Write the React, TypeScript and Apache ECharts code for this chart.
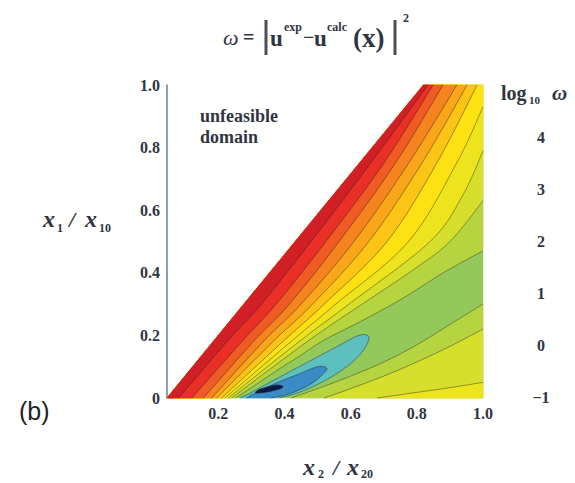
import React, { useEffect, useRef } from "react";
import * as echarts from "echarts";

// ---------- tick labels ----------
const xTicks = [0.2, 0.4, 0.6, 0.8, 1.0];
const yTicks = [0, 0.2, 0.4, 0.6, 0.8, 1.0];
const colorbarTicks = [-1, 0, 1, 2, 3, 4];

// ---------- feasible domain (x2/x20, x1/x10) ----------
const domain = [[0.045, 0], [1, 0], [1, 1], [0.82, 1]];

// ---------- contour lines of log10(omega), points [x2/x20, x1/x10] ----------
const upperLevels = [0.5, 1, 1.5, 2, 2.5, 3, 3.5, 4, 4.5, 5];
const upper05 = [[0.252, 0], [0.31, 0.04], [0.38, 0.09], [0.44, 0.13], [0.52, 0.185], [0.64, 0.25], [0.76, 0.32], [0.88, 0.4], [1, 0.47]];
const upper10 = [[0.24, 0], [0.475, 0.185], [0.635, 0.3], [0.79, 0.41], [0.9, 0.5], [1, 0.63]];
const upper15 = [[0.23, 0], [0.45, 0.185], [0.595, 0.3], [0.84, 0.5], [0.94, 0.65], [1, 0.79]];
const upper20 = [[0.22, 0], [0.425, 0.185], [0.555, 0.3], [0.775, 0.5], [0.92, 0.75], [1, 0.93]];
const upper25 = [[0.21, 0], [0.4, 0.185], [0.52, 0.3], [0.71, 0.5], [0.86, 0.75], [0.982, 1]];
const upper30 = [[0.195, 0], [0.37, 0.185], [0.485, 0.3], [0.655, 0.5], [0.815, 0.75], [0.952, 1]];
const upper35 = [[0.18, 0], [0.34, 0.185], [0.45, 0.3], [0.61, 0.5], [0.775, 0.75], [0.921, 1]];
const upper40 = [[0.155, 0], [0.31, 0.185], [0.415, 0.3], [0.565, 0.5], [0.735, 0.75], [0.879, 1]];
const upper45 = [[0.12, 0], [0.275, 0.185], [0.375, 0.3], [0.525, 0.5], [0.7, 0.75], [0.849, 1]];
const upper50 = [[0.08, 0], [0.23, 0.185], [0.33, 0.3], [0.48, 0.5], [0.66, 0.75], [0.833, 1]];

const lowerLevels = [0.5, 1, 1.5];
const lower05 = [[0.42, 0], [0.5, 0.03], [0.6, 0.07], [0.7, 0.115], [0.8, 0.17], [0.9, 0.235], [1, 0.3]];
const lower10 = [[0.52, 0], [0.6, 0.03], [0.7, 0.07], [0.8, 0.115], [0.9, 0.165], [1, 0.22]];
const lower15 = [[0.68, 0], [0.8, 0.018], [0.9, 0.033], [1, 0.05]];

// sub-level regions around the minimum
const below0 = [[0.265, 0], [0.29, 0.012], [0.33, 0.035], [0.4, 0.075], [0.48, 0.12], [0.56, 0.165], [0.625, 0.2], [0.655, 0.195], [0.64, 0.155], [0.6, 0.11], [0.53, 0.06], [0.45, 0.02], [0.385, 0]];
const belowM05 = [[0.285, 0], [0.32, 0.02], [0.38, 0.05], [0.44, 0.075], [0.5, 0.1], [0.528, 0.095], [0.515, 0.075], [0.48, 0.045], [0.42, 0.015], [0.36, 0]];
const belowM1 = [[0.315, 0.016], [0.35, 0.02], [0.385, 0.029], [0.395, 0.037], [0.375, 0.041], [0.345, 0.034], [0.32, 0.025]];

// band colours, keyed by the band's lower bound
const bandLow = [-1.5, -1, -0.5, 0, 0.5, 1, 1.5, 2, 2.5, 3, 3.5, 4, 4.5, 5];
const bandColor = ["#0f1a44", "#3a8cc6", "#5dbfbe", "#93c95a", "#b5d43f", "#d5df2c", "#eee41d", "#fde213", "#fcc515", "#f9a61b", "#f5841f", "#f05a23", "#e92f26", "#d11f26"];

const upperContours = [upper05, upper10, upper15, upper20, upper25, upper30, upper35, upper40, upper45, upper50];
const lowerContours = [lower05, lower10, lower15];

const FONT = '"Liberation Serif", "DejaVu Serif", serif';
const TXT = "#30353f";

type Layer = { curve: number[][]; tail: number[][]; closedCurve: boolean; color: string };

function colorOf(level: number) {
  return bandColor[bandLow.indexOf(level)];
}

function upperTail(c: number[][]) {
  const tail: number[][] = [];
  const end = c[c.length - 1];
  if (end[0] >= 1 && end[1] < 1) tail.push([1, 1]);
  if (end[0] >= 1 || end[1] >= 1) tail.push([0.82, 1]);
  tail.push([0.045, 0]);
  return tail;
}

function buildLayers() {
  const layers: Layer[] = [];
  layers.push({ curve: [], tail: domain, closedCurve: false, color: colorOf(0) });
  upperLevels.forEach((L, i) => {
    const li = lowerLevels.indexOf(L);
    if (li >= 0) layers.push({ curve: lowerContours[li], tail: [[1, 0]], closedCurve: false, color: colorOf(L) });
    layers.push({ curve: upperContours[i], tail: upperTail(upperContours[i]), closedCurve: false, color: colorOf(L) });
  });
  layers.push({ curve: below0, tail: [], closedCurve: false, color: colorOf(-0.5) });
  layers.push({ curve: belowM05, tail: [], closedCurve: false, color: colorOf(-1) });
  layers.push({ curve: belowM1, tail: [], closedCurve: true, color: colorOf(-1.5) });
  return layers;
}

function buildLines() {
  const lines: { pts: number[][]; closed: boolean }[] = [];
  upperContours.forEach((c) => lines.push({ pts: c, closed: false }));
  lowerContours.forEach((c) => lines.push({ pts: c, closed: false }));
  lines.push({ pts: below0, closed: false });
  lines.push({ pts: belowM05, closed: false });
  lines.push({ pts: belowM1, closed: true });
  return lines;
}

// Catmull-Rom drawing of a curve through pixel points (rendering only)
function spline(p: number[][], closed: boolean) {
  const n = p.length;
  if (n < 3) return p.slice();
  const out: number[][] = [];
  const get = (i: number) => {
    if (closed) return p[(i + n) % n];
    return p[Math.max(0, Math.min(n - 1, i))];
  };
  const segs = closed ? n : n - 1;
  const steps = 10;
  for (let i = 0; i < segs; i++) {
    const p0 = get(i - 1), p1 = get(i), p2 = get(i + 1), p3 = get(i + 2);
    for (let s = 0; s < steps; s++) {
      const t = s / steps, t2 = t * t, t3 = t2 * t;
      const f = (k: number) =>
        0.5 * (2 * p1[k] + (-p0[k] + p2[k]) * t + (2 * p0[k] - 5 * p1[k] + 4 * p2[k] - p3[k]) * t2 + (-p0[k] + 3 * p1[k] - 3 * p2[k] + p3[k]) * t3);
      out.push([f(0), f(1)]);
    }
  }
  if (!closed) out.push(p[n - 1]);
  return out;
}

function txt(text: string, x: number, y: number, font: string, extra: any = {}) {
  return {
    type: "text",
    x,
    y,
    silent: true,
    style: { text, font, fill: TXT, verticalAlign: "middle", align: "left", ...extra },
  };
}

export default function App() {
  const ref = useRef<HTMLDivElement>(null);
  useEffect(() => {
    document.body.style.margin = "0";
    if (!ref.current) return;
    const chart = echarts.init(ref.current, undefined, { renderer: "svg" });
    const layers = buildLayers();
    const lines = buildLines();

    const graphics: any[] = [
      // title  ω = | u^exp − u^calc(x) |^2
      txt("ω", 223, 37, `italic 22px ${FONT}`),
      txt("=", 243, 37, `bold 20px ${FONT}`),
      { type: "line", silent: true, shape: { x1: 266, y1: 20, x2: 266, y2: 55 }, style: { stroke: "#4a4f58", lineWidth: 3 } },
      txt("u", 270, 38, `bold 23px ${FONT}`),
      txt("exp", 284, 27, `bold 12px ${FONT}`),
      txt("−", 303, 37, `bold 20px ${FONT}`),
      txt("u", 314, 38, `bold 23px ${FONT}`),
      txt("calc", 327, 27, `bold 12px ${FONT}`),
      txt("(x)", 353, 38, `bold 27px ${FONT}`),
      { type: "line", silent: true, shape: { x1: 395, y1: 20, x2: 395, y2: 55 }, style: { stroke: "#4a4f58", lineWidth: 3 } },
      txt("2", 403, 18, `bold 12px ${FONT}`),
      // unfeasible domain
      txt("unfeasible", 200, 116, `bold 18px ${FONT}`),
      txt("domain", 200, 137, `bold 18px ${FONT}`),
      // colorbar title
      txt("log", 501, 93, `bold 20px ${FONT}`),
      txt("10", 529, 100, `bold 11px ${FONT}`),
      txt("ω", 552, 93, `italic bold 21px ${FONT}`),
      // (b)
      txt("(b)", 19, 411, `25px "Liberation Sans", Arial, sans-serif`, { fill: "#222" }),
      // y axis name
      txt("x", 43, 219, `italic bold 24px ${FONT}`),
      txt("1", 57, 228, `bold 12px ${FONT}`),
      txt("/", 69, 219, `italic bold 22px ${FONT}`),
      txt("x", 85, 219, `italic bold 24px ${FONT}`),
      txt("10", 99, 228, `bold 12px ${FONT}`),
      // x axis name
      txt("x", 303, 467, `italic bold 24px ${FONT}`),
      txt("2", 318, 474, `bold 12px ${FONT}`),
      txt("/", 333, 467, `italic bold 22px ${FONT}`),
      txt("x", 347, 467, `italic bold 24px ${FONT}`),
      txt("20", 361, 474, `bold 12px ${FONT}`),
    ];
    colorbarTicks.forEach((v) => {
      graphics.push(
        txt(v < 0 ? "−" + Math.abs(v) : String(v), 541, 397 - (v + 1) * 52, `bold 16px ${FONT}`, { align: "center" })
      );
    });

    chart.setOption({
      animation: false,
      backgroundColor: "#ffffff",
      grid: { left: 167, top: 85, width: 316, height: 313 },
      xAxis: {
        type: "value",
        min: 0.045,
        max: 1,
        axisLine: { show: false },
        axisTick: { show: false },
        splitLine: { show: false },
        axisLabel: {
          customValues: xTicks,
          formatter: (v: number) => v.toFixed(1),
          fontFamily: FONT,
          fontSize: 16,
          fontWeight: "bold",
          color: TXT,
          margin: 7,
        },
      },
      yAxis: {
        type: "value",
        min: 0,
        max: 1,
        axisLine: { show: true, onZero: false, lineStyle: { color: "#7088a3", width: 1.6 } },
        axisTick: { show: false },
        splitLine: { show: false },
        axisLabel: {
          customValues: yTicks,
          formatter: (v: number) => (v === 0 ? "0" : v.toFixed(1)),
          fontFamily: FONT,
          fontSize: 16,
          fontWeight: "bold",
          color: TXT,
          margin: 7,
        },
      },
      graphic: graphics,
      series: [
        {
          type: "custom",
          coordinateSystem: "cartesian2d",
          silent: true,
          clip: false,
          data: layers.map((l) => (l.curve.length ? l.curve[0] : l.tail[0])),
          renderItem: (params: any, api: any) => {
            const layer = layers[params.dataIndex];
            const curvePx = spline(layer.curve.map((p) => api.coord(p)), layer.closedCurve);
            const pts = curvePx.concat(layer.tail.map((p) => api.coord(p)));
            return {
              type: "polygon",
              shape: { points: pts },
              style: { fill: layer.color, stroke: layer.color, lineWidth: 0.4 },
            };
          },
          z: 1,
        },
        {
          type: "custom",
          coordinateSystem: "cartesian2d",
          silent: true,
          clip: false,
          data: lines.map((l) => l.pts[0]),
          renderItem: (params: any, api: any) => {
            const line = lines[params.dataIndex];
            const pts = spline(line.pts.map((p) => api.coord(p)), line.closed);
            return {
              type: line.closed ? "polygon" : "polyline",
              shape: { points: pts },
              style: { fill: "none", stroke: "rgba(35,35,35,0.55)", lineWidth: 0.8 },
            };
          },
          z: 2,
        },
      ],
    });
    return () => chart.dispose();
  }, []);
  return <div ref={ref} style={{ width: 575, height: 483 }} />;
}
